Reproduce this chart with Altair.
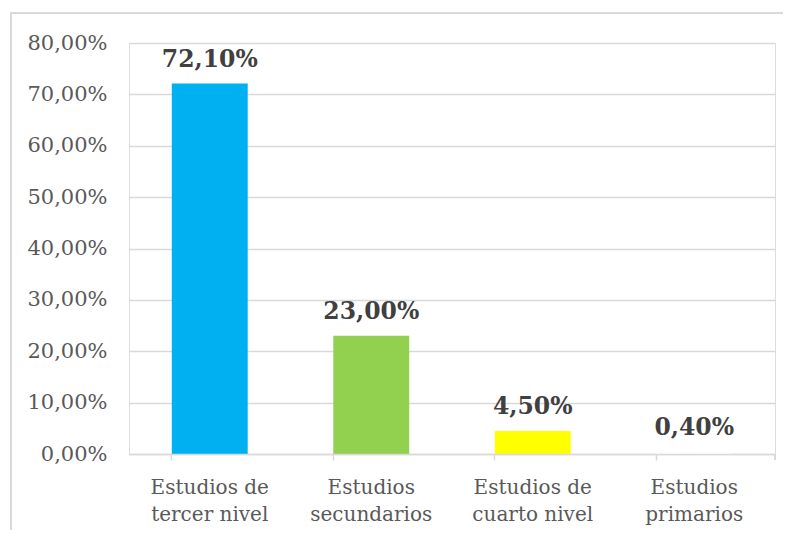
import altair as alt
import pandas as pd

categories = ["Estudios de\ntercer nivel", "Estudios\nsecundarios",
              "Estudios de\ncuarto nivel", "Estudios\nprimarios"]
values = [0.721, 0.23, 0.045, 0.004]
labels = ["72,10%", "23,00%", "4,50%", "0,40%"]
colors = ["#00B0F0", "#92D050", "#FFFF00", "#FFFFFF"]

df = pd.DataFrame({"cat": categories, "val": values, "lab": labels, "col": colors})

W, H = 646, 411
FONT = "DejaVu Serif"

x = alt.X("cat:N", sort=categories, title=None,
          scale=alt.Scale(paddingInner=0.53, paddingOuter=0.265),
          axis=alt.Axis(labelAngle=0, labelExpr="split(datum.value, '\\n')",
                        labelFont=FONT, labelFontSize=20, labelColor="#595959",
                        labelPadding=17, labelLineHeight=27,
                        domainColor="#D9D9D9", domainWidth=1.5,
                        tickColor="#D9D9D9", tickWidth=1.5, tickSize=6,
                        bandPosition=0, grid=False, zindex=1))
y = alt.Y("val:Q", title=None,
          scale=alt.Scale(domain=[0, 0.8], nice=False),
          axis=alt.Axis(values=[0, 0.1, 0.2, 0.3, 0.4, 0.5, 0.6, 0.7, 0.8],
                        labelExpr="replace(format(datum.value, '.2%'), '.', ',')",
                        labelFont=FONT, labelFontSize=21, labelColor="#595959",
                        labelPadding=22, domain=False, ticks=False,
                        gridColor="#D9D9D9", gridWidth=1.5))

border = alt.Chart(df).mark_rect(fill=None, stroke="#D9D9D9", strokeWidth=2, clip=False).encode(
    x=alt.value(-118), x2=alt.value(W + 200), y=alt.value(-30), y2=alt.value(H + 300))

bars = alt.Chart(df).mark_bar().encode(
    x=x, y=y, color=alt.Color("col:N", scale=None))

text = alt.Chart(df).mark_text(font=FONT, fontSize=23.5, fontWeight="bold",
                               color="#404040", baseline="alphabetic", dy=-17).encode(
    x=alt.X("cat:N", sort=categories), y="val:Q", text="lab:N")

endtick = alt.Chart(df).mark_rule(color="#D9D9D9", strokeWidth=1.5).encode(
    x=alt.value(W), y=alt.value(H), y2=alt.value(H + 6))

chart = alt.layer(bars, text, endtick, border).properties(
    width=W, height=H,
    autosize=alt.AutoSizeParams(type="none"),
    padding={"left": 121, "top": 35, "right": 8, "bottom": 76},
).configure_view(stroke=None).configure(background="white")

chart.save("out.html", embed_options={"renderer": "svg", "actions": False})
